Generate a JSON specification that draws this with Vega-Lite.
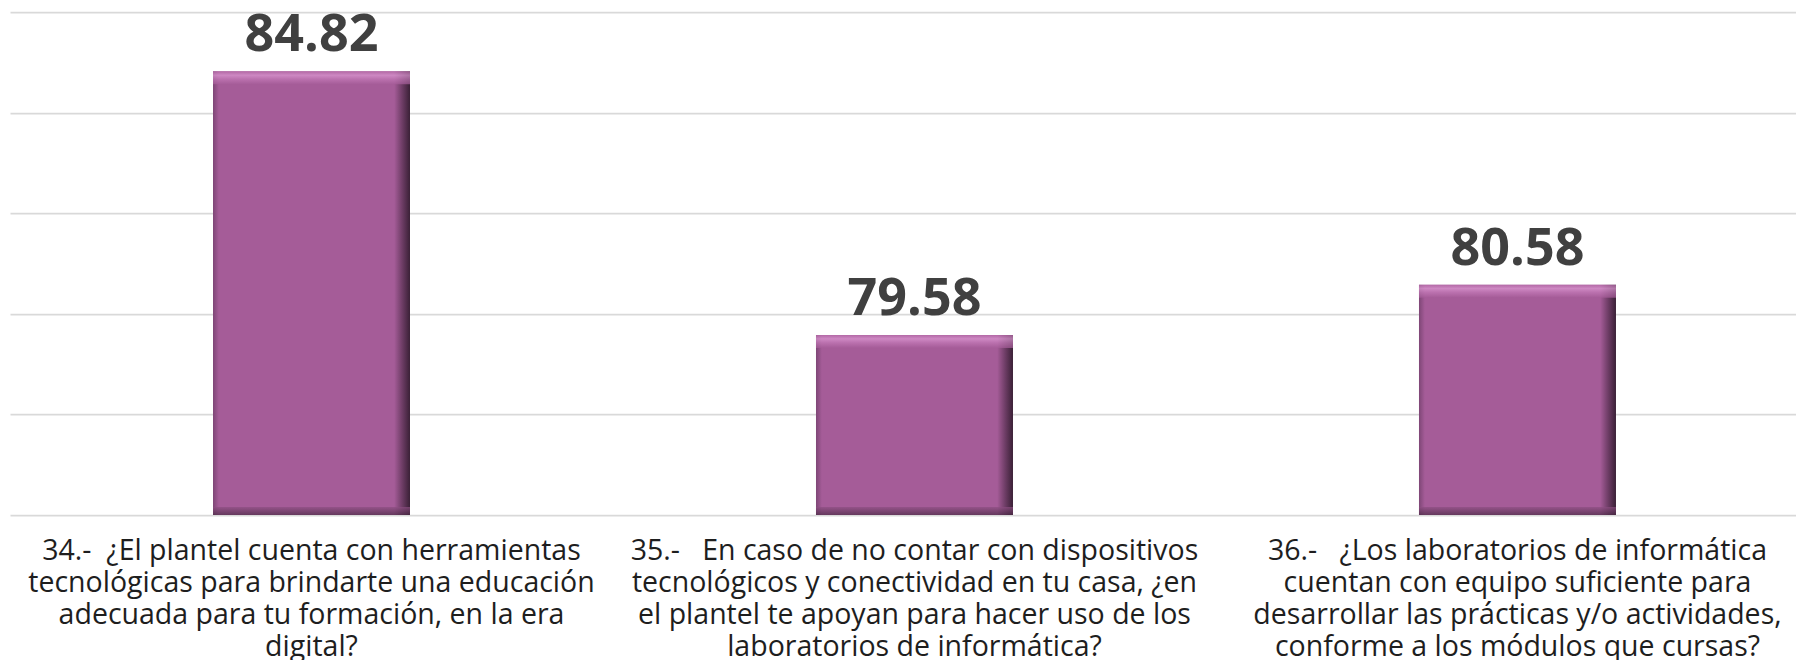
{
  "$schema": "https://vega.github.io/schema/vega-lite/v6.json",
  "width": 1786,
  "height": 503,
  "autosize": {"type": "none"},
  "padding": {"left": 10, "top": 12, "right": 0, "bottom": 145},
  "background": "#ffffff",
  "data": {
    "values": [
      {"pregunta": "34.-\u00a0\u00a0¿El plantel cuenta con herramientas|tecnológicas para brindarte una educación|adecuada para tu formación, en la era|digital?", "valor": 84.82},
      {"pregunta": "35.-\u00a0\u00a0\u00a0En caso de no contar con dispositivos|tecnológicos y conectividad en tu casa, ¿en|el plantel te apoyan para hacer uso de los|laboratorios de informática?", "valor": 79.58},
      {"pregunta": "36.-\u00a0\u00a0\u00a0¿Los laboratorios de informática|cuentan con equipo suficiente para|desarrollar las prácticas y/o actividades,|conforme a los módulos que cursas?", "valor": 80.58}
    ]
  },
  "config": {
    "view": {"stroke": null},
    "font": "Open Sans"
  },
  "encoding": {
    "x": {
      "field": "pregunta",
      "type": "nominal",
      "sort": null,
      "scale": {"paddingInner": 0.6733, "paddingOuter": 0.3176, "align": 0.53},
      "axis": {
        "title": null,
        "domain": false,
        "ticks": false,
        "tickSize": 0,
        "grid": false,
        "labelAngle": 0,
        "labelExpr": "split(datum.label, '|')",
        "labelFont": "Open Sans",
        "labelFontSize": 28.5,
        "labelColor": "#1e1e1e",
        "labelLineHeight": 32,
        "labelBaseline": "top",
        "labelPadding": 21,
        "labelLimit": 700,
        "labelOverlap": false
      }
    }
  },
  "layer": [
    {
      "mark": {
        "type": "bar",
        "color": {
          "gradient": "linear",
          "x1": 0, "y1": 0, "x2": 1, "y2": 0,
          "stops": [
            {"offset": 0, "color": "#7e4676"},
            {"offset": 0.03, "color": "#a55c98"},
            {"offset": 0.92, "color": "#a55c98"},
            {"offset": 0.96, "color": "#6e3d66"},
            {"offset": 1, "color": "#3a2036"}
          ]
        }
      },
      "encoding": {
        "y": {
          "field": "valor",
          "type": "quantitative",
          "scale": {"domain": [76, 86], "nice": false, "zero": false},
          "axis": {
            "title": null,
            "values": [76, 78, 80, 82, 84, 86],
            "labels": false,
            "ticks": false,
            "domain": false,
            "grid": true,
            "gridColor": "#d9d9d9",
            "gridWidth": 1.75
          }
        },
        "y2": {"datum": 76}
      }
    },
    {
      "mark": {
        "type": "tick",
        "orient": "horizontal",
        "thickness": 13,
        "size": 197,
        "yOffset": 6.5,
        "color": {
          "gradient": "linear",
          "x1": 0, "y1": 0, "x2": 0, "y2": 1,
          "stops": [
            {"offset": 0, "color": "#b86dab"},
            {"offset": 0.3, "color": "#df9bd5"},
            {"offset": 0.6, "color": "#c47ab8"},
            {"offset": 1, "color": "#a55c98"}
          ]
        }
      },
      "encoding": {
        "y": {"field": "valor", "type": "quantitative"}
      }
    },
    {
      "mark": {
        "type": "tick",
        "orient": "horizontal",
        "thickness": 8,
        "size": 197,
        "yOffset": -4,
        "color": {
          "gradient": "linear",
          "x1": 0, "y1": 0, "x2": 0, "y2": 1,
          "stops": [
            {"offset": 0, "color": "#8d4e82"},
            {"offset": 1, "color": "#4a2a45"}
          ]
        }
      },
      "encoding": {
        "y": {"datum": 76, "type": "quantitative"}
      }
    },
    {
      "mark": {
        "type": "text",
        "font": "Open Sans",
        "fontWeight": "bold",
        "fontSize": 52,
        "color": "#404040",
        "baseline": "alphabetic",
        "dy": -20
      },
      "encoding": {
        "y": {"field": "valor", "type": "quantitative"},
        "text": {"field": "valor", "type": "quantitative", "format": ".2f"}
      }
    }
  ]
}
